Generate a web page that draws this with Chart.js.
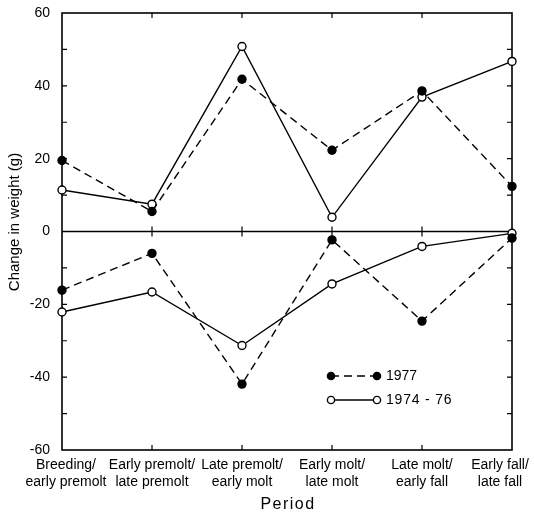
<!DOCTYPE html>
<html>
<head>
<meta charset="utf-8">
<script src="https://cdn.jsdelivr.net/npm/chart.js@4/dist/chart.umd.min.js"></script>
<style>
html,body{margin:0;padding:0;background:#fff;}
#wrap{width:534px;height:513px;position:relative;}
</style>
</head>
<body>
<div id="wrap"><canvas id="c" width="534" height="513"></canvas></div>
<script>
const periods = [
  ["Breeding/", "early premolt"],
  ["Early premolt/", "late premolt"],
  ["Late premolt/", "early molt"],
  ["Early molt/", "late molt"],
  ["Late molt/", "early fall"],
  ["Early fall/", "late fall"]
];
const gain1977 = [19.5, 5.5, 41.8, 22.3, 38.6, 12.4];
const loss1977 = [-16.1, -6.0, -41.9, -2.3, -24.6, -1.8];
const gain197476 = [11.4, 7.5, 50.8, 3.9, 36.9, 46.7];
const loss197476 = [-22.1, -16.6, -31.3, -14.4, -4.1, -0.5];
const seriesNames = ["1977", "1974 - 76"];
const yTicks = [-60, -40, -20, 0, 20, 40, 60];
const yTitle = "Change in weight (g)";
const xTitle = "Period";

const FONT = "'Liberation Sans', Arial, Helvetica, sans-serif";

function ds(data, filled, label) {
  return {
    label: label,
    data: data,
    borderColor: '#000',
    borderWidth: 1.4,
    borderDash: filled ? [8, 5] : [],
    pointRadius: 4,
    pointBorderWidth: 1.4,
    pointBackgroundColor: filled ? '#000' : '#fff',
    pointBorderColor: '#000',
    fill: false,
    tension: 0
  };
}

const frame = {
  id: 'frame',
  beforeDatasetsDraw(chart) {
    const ctx = chart.ctx, a = chart.chartArea;
    const x = chart.scales.x, y = chart.scales.y;
    ctx.save();
    ctx.strokeStyle = '#000';
    ctx.lineWidth = 1.6;
    ctx.strokeRect(a.left, a.top, a.right - a.left, a.bottom - a.top);
    const y0 = y.getPixelForValue(0);
    ctx.beginPath();
    ctx.moveTo(a.left, y0); ctx.lineTo(a.right, y0);
    ctx.stroke();
    ctx.lineWidth = 1.2;
    ctx.beginPath();
    for (let v = -50; v <= 50; v += 10) {
      const py = y.getPixelForValue(v);
      ctx.moveTo(a.left, py); ctx.lineTo(a.left + 5, py);
      ctx.moveTo(a.right, py); ctx.lineTo(a.right - 5, py);
    }
    for (let i = 1; i < periods.length - 1; i++) {
      const px = x.getPixelForValue(i);
      ctx.moveTo(px, a.top); ctx.lineTo(px, a.top + 5);
      ctx.moveTo(px, a.bottom); ctx.lineTo(px, a.bottom - 5);
      ctx.moveTo(px, y0 - 5); ctx.lineTo(px, y0 + 5);
    }
    ctx.stroke();
    // x category labels
    ctx.fillStyle = '#000';
    ctx.font = '14px ' + FONT;
    ctx.textAlign = 'center';
    ctx.textBaseline = 'middle';
    periods.forEach((lines, i) => {
      let px = x.getPixelForValue(i);
      if (i === 0) px += 4;
      if (i === periods.length - 1) px -= 12;
      lines.forEach((t, j) => ctx.fillText(t, px, a.bottom + 15 + j * 17));
    });
    // axis titles
    ctx.font = '15px ' + FONT;
    ctx.save();
    ctx.translate(15, 222);
    ctx.rotate(-Math.PI / 2);
    ctx.fillText(yTitle, 0, 0);
    ctx.restore();
    ctx.font = '16px ' + FONT;
    if ('letterSpacing' in ctx) ctx.letterSpacing = '1.5px';
    ctx.fillText(xTitle, (a.left + a.right) / 2 + 1, 505);
    if ('letterSpacing' in ctx) ctx.letterSpacing = '0px';
    ctx.restore();
  },
  afterDatasetsDraw(chart) {
    const ctx = chart.ctx;
    ctx.save();
    const rows = [{y: 376, filled: true}, {y: 400, filled: false}];
    rows.forEach((r, i) => {
      ctx.strokeStyle = '#000';
      ctx.lineWidth = 1.4;
      ctx.setLineDash(r.filled ? [8, 5] : []);
      ctx.beginPath();
      ctx.moveTo(331, r.y); ctx.lineTo(377, r.y);
      ctx.stroke();
      ctx.setLineDash([]);
      [331, 377].forEach(px => {
        ctx.beginPath();
        ctx.arc(px, r.y, 3.6, 0, Math.PI * 2);
        ctx.fillStyle = r.filled ? '#000' : '#fff';
        ctx.fill();
        ctx.stroke();
      });
      ctx.fillStyle = '#000';
      ctx.font = '14px ' + FONT;
      ctx.textAlign = 'left';
      ctx.textBaseline = 'middle';
      if ('letterSpacing' in ctx) ctx.letterSpacing = i === 1 ? '0.8px' : '0px';
      ctx.fillText(seriesNames[i], 386, r.y);
      if ('letterSpacing' in ctx) ctx.letterSpacing = '0px';
    });
    ctx.restore();
  }
};

new Chart(document.getElementById('c'), {
  type: 'line',
  data: {
    labels: periods,
    datasets: [
      ds(gain1977, true, seriesNames[0]),
      ds(loss1977, true, seriesNames[0]),
      ds(gain197476, false, seriesNames[1]),
      ds(loss197476, false, seriesNames[1])
    ]
  },
  options: {
    responsive: false,
    animation: false,
    devicePixelRatio: 1,
    layout: { padding: { top: 13, right: 22, left: 0, bottom: 0 } },
    plugins: { legend: { display: false }, tooltip: { enabled: false } },
    scales: {
      x: {
        type: 'category',
        offset: false,
        grid: { display: false },
        border: { display: false },
        ticks: { display: false },
        afterFit(s) { s.height = 63; s.paddingLeft = 0; s.paddingRight = 0; }
      },
      y: {
        min: -60, max: 60,
        grid: { display: false },
        border: { display: false },
        afterBuildTicks(s) { s.ticks = yTicks.map(v => ({ value: v })); },
        ticks: {
          color: '#000',
          font: { family: FONT, size: 14 },
          padding: 4
        },
        afterFit(s) { s.width = 62; s.paddingTop = 0; s.paddingBottom = 0; }
      }
    }
  },
  plugins: [frame]
});
</script>
</body>
</html>
